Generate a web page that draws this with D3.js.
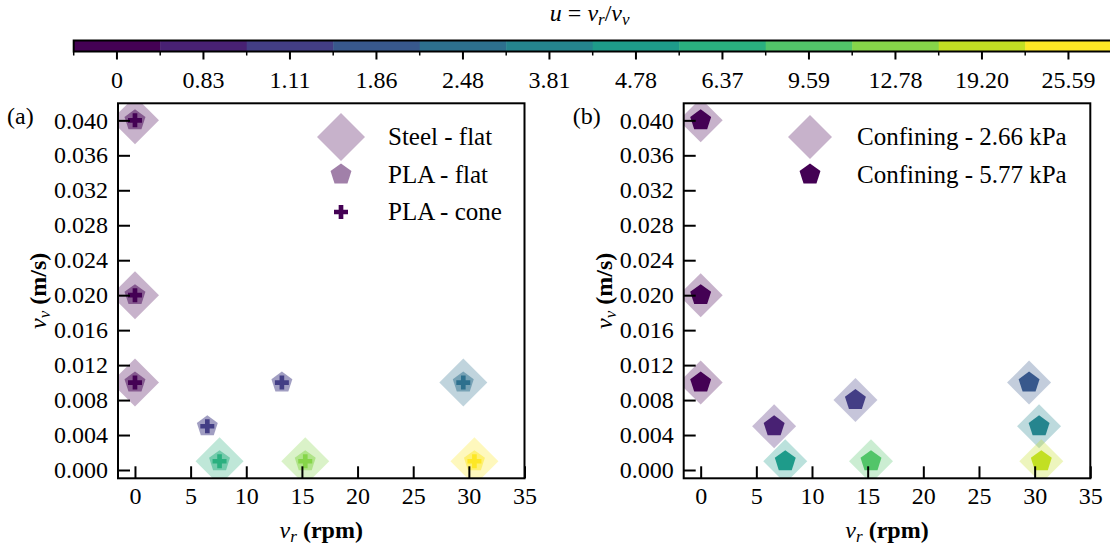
<!DOCTYPE html>
<html>
<head>
<meta charset="utf-8">
<script src="https://cdn.jsdelivr.net/npm/d3@7"></script>
<style>
  html, body { margin: 0; padding: 0; background: #fff; }
  svg { display: block; }
  text { font-family: "Liberation Serif", "Times New Roman", serif; fill: #000; }
</style>
</head>
<body>
<svg id="chart" width="1110" height="551"></svg>
<script>
// ---------------- DATA ----------------
// colour-bar categories, u = v_r / v_v
const uLabels = ["0", "0.83", "1.11", "1.86", "2.48", "3.81", "4.78", "6.37", "9.59", "12.78", "19.20", "25.59"];

// axis ticks
const xTicks = [0, 5, 10, 15, 20, 25, 30, 35];
const yTicks = [0, 0.004, 0.008, 0.012, 0.016, 0.020, 0.024, 0.028, 0.032, 0.036, 0.040];

// Panel (a)
const steelFlatVr = [0, 0, 0, 29.5, 7.6, 15.3, 30.5];
const steelFlatVv = [0.040, 0.020, 0.010, 0.010, 0.001, 0.001, 0.001];
const steelFlatU  = ["0", "0", "0", "2.48", "6.37", "12.78", "25.59"];

const plaFlatVr = [0, 0, 0, 6.5, 13.2, 29.5, 7.6, 15.3, 30.5];
const plaFlatVv = [0.040, 0.020, 0.010, 0.005, 0.010, 0.010, 0.001, 0.001, 0.001];
const plaFlatU  = ["0", "0", "0", "1.11", "1.11", "2.48", "6.37", "12.78", "25.59"];

const plaConeVr = [0, 0, 0, 6.5, 13.2, 29.5, 7.6, 15.3, 30.5];
const plaConeVv = [0.040, 0.020, 0.010, 0.005, 0.010, 0.010, 0.001, 0.001, 0.001];
const plaConeU  = ["0", "0", "0", "1.11", "1.11", "2.48", "6.37", "12.78", "25.59"];

// Panel (b)
const conf266Vr = [0, 0, 0, 6.6, 13.9, 29.5, 30.4, 7.6, 15.3, 30.6];
const conf266Vv = [0.040, 0.020, 0.010, 0.005, 0.008, 0.010, 0.005, 0.001, 0.001, 0.001];
const conf266U  = ["0", "0", "0", "0.83", "1.11", "1.86", "3.81", "4.78", "9.59", "19.20"];

const conf577Vr = [0, 0, 0, 6.6, 13.9, 29.5, 30.4, 7.6, 15.3, 30.6];
const conf577Vv = [0.040, 0.020, 0.010, 0.005, 0.008, 0.010, 0.005, 0.001, 0.001, 0.001];
const conf577U  = ["0", "0", "0", "0.83", "1.11", "1.86", "3.81", "4.78", "9.59", "19.20"];

// ---------------- SETUP ----------------
const svg = d3.select("#chart");
const FONT = 24;

const colorOf = d3.scaleOrdinal()
  .domain(uLabels)
  .range(uLabels.map((d, i) => d3.interpolateViridis(i / (uLabels.length - 1))));

// marker path builders (relative to centre)
function diamondPath(r) { return `M0,${-r}L${r},0L0,${r}L${-r},0Z`; }
function pentagonPath(r) {
  const pts = d3.range(5).map(k => {
    const a = (-90 + 72 * k) * Math.PI / 180;
    return [r * Math.cos(a), r * Math.sin(a)];
  });
  return "M" + pts.map(p => p.join(",")).join("L") + "Z";
}
function plusPath(h) {
  const a = h / 3;
  const p = [[-a,-h],[a,-h],[a,-a],[h,-a],[h,a],[a,a],[a,h],[-a,h],[-a,a],[-h,a],[-h,-a],[-a,-a]];
  return "M" + p.map(q => q.join(",")).join("L") + "Z";
}

// ---------------- COLOUR BAR ----------------
const cb = svg.append("g");
const cbX = d3.scaleBand().domain(uLabels).range([73.7, 1111.7]).padding(0);
const cbTop = 40.5, cbH = 11;
cb.selectAll("rect.seg").data(uLabels).join("rect")
  .attr("class", "seg")
  .attr("x", d => cbX(d)).attr("y", cbTop)
  .attr("width", cbX.bandwidth() + 0.5).attr("height", cbH)
  .attr("fill", d => colorOf(d));
cb.append("rect")
  .attr("x", cbX.range()[0]).attr("y", cbTop)
  .attr("width", cbX.range()[1] - cbX.range()[0]).attr("height", cbH)
  .attr("fill", "none").attr("stroke", "#000").attr("stroke-width", 2);
// minor ticks at boundaries
cb.selectAll("line.minor").data(uLabels).join("line")
  .attr("class", "minor")
  .attr("x1", d => cbX(d)).attr("x2", d => cbX(d))
  .attr("y1", cbTop + cbH).attr("y2", cbTop + cbH + 4)
  .attr("stroke", "#000").attr("stroke-width", 1.5);
const cbAxis = cb.append("g")
  .attr("transform", `translate(0,${cbTop + cbH})`)
  .call(d3.axisBottom(cbX).tickSizeInner(8).tickSizeOuter(0).tickPadding(11));
cbAxis.select(".domain").remove();
cbAxis.selectAll(".tick line").attr("stroke-width", 2);
cbAxis.selectAll(".tick text").style("font-size", FONT + "px").style("font-family", "Liberation Serif");

// colour-bar title: u = v_r / v_v
const cbTitle = svg.append("text")
  .attr("x", (cbX.range()[0] + cbX.range()[1]) / 2 - 3)
  .attr("y", 21)
  .attr("text-anchor", "middle")
  .style("font-size", FONT + "px");
cbTitle.append("tspan").style("font-style", "italic").text("u");
cbTitle.append("tspan").text(" = ");
cbTitle.append("tspan").style("font-style", "italic").text("v");
cbTitle.append("tspan").style("font-style", "italic").style("font-size", "17px").attr("dy", 4).text("r");
cbTitle.append("tspan").attr("dy", -4).text("/");
cbTitle.append("tspan").style("font-style", "italic").text("v");
cbTitle.append("tspan").style("font-style", "italic").style("font-size", "17px").attr("dy", 4).text("v");

// ---------------- PANELS ----------------
function makePanel(opts) {
  const { left, right, top, bottom, id, label, series, legend } = opts;
  const x = d3.scaleLinear().domain([-1.525, 35]).range([left, right]);
  const y = d3.scaleLinear().domain([-0.00095, 0.04195]).range([bottom, top]);
  const g = svg.append("g");

  svg.append("clipPath").attr("id", id)
    .append("rect").attr("x", left).attr("y", top)
    .attr("width", right - left).attr("height", bottom - top);

  const plot = g.append("g").attr("clip-path", `url(#${id})`);
  series.forEach(s => {
    plot.append("g").selectAll("path").data(s.vr.map((v, i) => ({ vr: v, vv: s.vv[i], u: s.u[i] })))
      .join("path")
      .attr("d", s.path)
      .attr("transform", d => `translate(${x(d.vr)},${y(d.vv)})`)
      .attr("fill", d => colorOf(d.u))
      .attr("fill-opacity", s.alpha);
  });

  // axes (ticks inward)
  const ax = g.append("g").attr("transform", `translate(0,${bottom})`)
    .call(d3.axisBottom(x).tickValues(xTicks).tickFormat(d3.format("d"))
      .tickSizeInner(-12).tickSizeOuter(0).tickPadding(9));
  const ay = g.append("g").attr("transform", `translate(${left},0)`)
    .call(d3.axisLeft(y).tickValues(yTicks).tickFormat(d3.format(".3f"))
      .tickSizeInner(-12).tickSizeOuter(0).tickPadding(10));
  [ax, ay].forEach(a => {
    a.select(".domain").remove();
    a.selectAll(".tick line").attr("stroke-width", 2);
    a.selectAll(".tick text").style("font-size", FONT + "px").style("font-family", "Liberation Serif");
  });

  // frame
  g.append("rect").attr("x", left).attr("y", top)
    .attr("width", right - left).attr("height", bottom - top)
    .attr("fill", "none").attr("stroke", "#000").attr("stroke-width", 2);

  // axis titles
  const xt = g.append("text").attr("x", (left + right) / 2).attr("y", 538)
    .attr("text-anchor", "middle").style("font-size", FONT + "px");
  xt.append("tspan").style("font-style", "italic").text("v");
  xt.append("tspan").style("font-style", "italic").style("font-size", "17px").attr("dy", 4).text("r");
  xt.append("tspan").attr("dy", -4).style("font-weight", "bold").text(" (rpm)");

  const yt = g.append("text")
    .attr("transform", `translate(${left - 72},${(top + bottom) / 2}) rotate(-90)`)
    .attr("text-anchor", "middle").style("font-size", FONT + "px");
  yt.append("tspan").style("font-style", "italic").text("v");
  yt.append("tspan").style("font-style", "italic").style("font-size", "17px").attr("dy", 4).text("v");
  yt.append("tspan").attr("dy", -4).style("font-weight", "bold").text(" (m/s)");

  // panel label
  g.append("text").attr("x", left - 111).attr("y", 124)
    .style("font-size", FONT + "px").text(label);

  // legend
  legend.items.forEach((it, i) => {
    const ly = legend.y0 + i * legend.dy;
    g.append("path").attr("d", it.path)
      .attr("transform", `translate(${legend.x},${ly})`)
      .attr("fill", colorOf(uLabels[0])).attr("fill-opacity", it.alpha);
    g.append("text").attr("x", legend.x + 47).attr("y", ly + 8)
      .style("font-size", "25px").text(it.text);
  });
}

makePanel({
  left: 118, right: 524.5, top: 103.3, bottom: 478.3, id: "clipA", label: "(a)",
  series: [
    { vr: steelFlatVr, vv: steelFlatVv, u: steelFlatU, path: diamondPath(24), alpha: 0.3 },
    { vr: plaFlatVr, vv: plaFlatVv, u: plaFlatU, path: pentagonPath(11), alpha: 0.5 },
    { vr: plaConeVr, vv: plaConeVv, u: plaConeU, path: plusPath(7), alpha: 1 }
  ],
  legend: {
    x: 341, y0: 137, dy: 37.5,
    items: [
      { text: "Steel - flat", path: diamondPath(24), alpha: 0.3 },
      { text: "PLA - flat", path: pentagonPath(11), alpha: 0.5 },
      { text: "PLA - cone", path: plusPath(7), alpha: 1 }
    ]
  }
});

makePanel({
  left: 683.7, right: 1090.3, top: 103.3, bottom: 478.3, id: "clipB", label: "(b)",
  series: [
    { vr: conf266Vr, vv: conf266Vv, u: conf266U, path: diamondPath(22), alpha: 0.3 },
    { vr: conf577Vr, vv: conf577Vv, u: conf577U, path: pentagonPath(11), alpha: 1 }
  ],
  legend: {
    x: 810, y0: 137, dy: 37.5,
    items: [
      { text: "Confining - 2.66 kPa", path: diamondPath(22), alpha: 0.3 },
      { text: "Confining - 5.77 kPa", path: pentagonPath(11), alpha: 1 }
    ]
  }
});
</script>
</body>
</html>
